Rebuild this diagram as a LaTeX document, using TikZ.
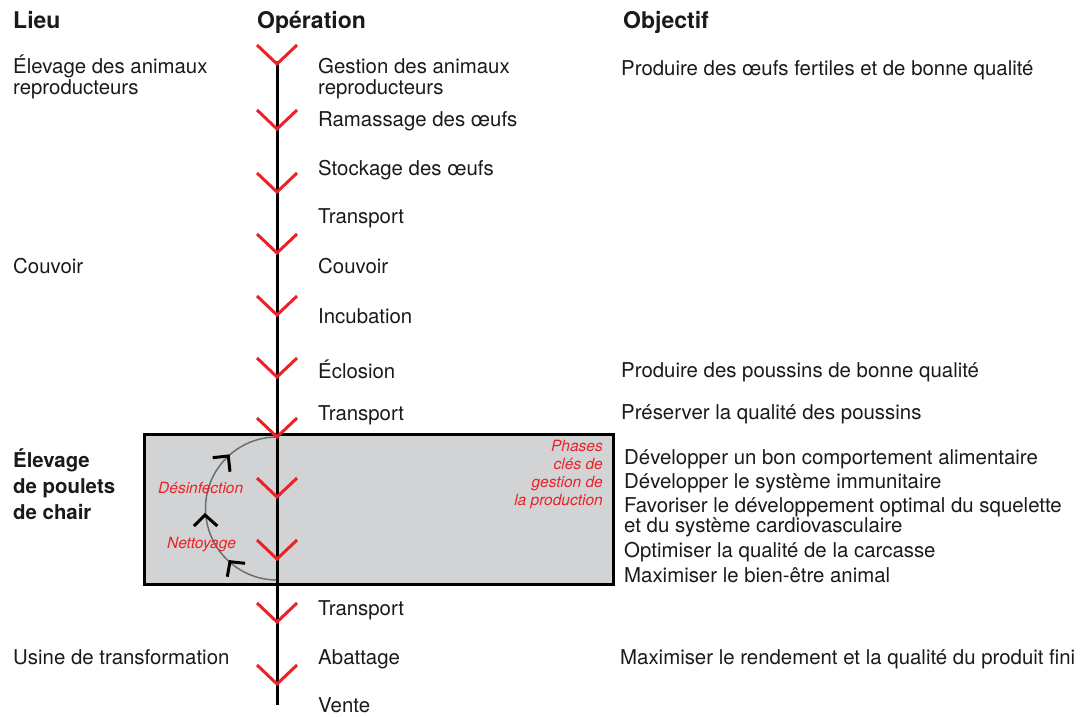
\documentclass[tikz,border=0pt]{standalone}
\usepackage{fontspec}
\setmainfont{TeX Gyre Heros}
\definecolor{chev}{HTML}{EC2228}
\definecolor{boxgray}{HTML}{D1D3D4}
\definecolor{arcgray}{HTML}{6D6E70}
\definecolor{ink}{HTML}{1A1A1A}
\begin{document}
\begin{tikzpicture}[x=1pt,y=-1pt,
  txt/.style={anchor=base west, inner sep=0pt, font=\fontsize{20.4}{24}\selectfont, text=ink},
  head/.style={anchor=base west, inner sep=0pt, font=\fontsize{23}{27}\selectfont\bfseries, text=ink},
  lieub/.style={txt, font=\fontsize{20.4}{24}\selectfont\bfseries},
  redlab/.style={inner sep=0pt, font=\fontsize{15.5}{18}\selectfont\itshape, text=chev},
  chevron/.style={draw=chev, line width=3pt, line join=miter},
  spine/.style={line width=3pt, draw=black},
  phasebox/.style={draw=black, line width=3pt, fill=boxgray},
  cyclearc/.style={draw=arcgray, line width=1.5pt},
  cycarrow/.style={draw=black, line width=3pt, line join=miter},
]
\useasboundingbox (0,0) rectangle (1082,717);

% box of key phases
\draw[phasebox] (144,434) rectangle (613,584);

% cycle arc
\coordinate (cyctop) at (277,437);
\coordinate (cycbot) at (277,580);
\draw[cyclearc] (cyctop) arc[start angle=270, end angle=90, radius=71.5];

% spine
\coordinate (top) at (277,61);
\coordinate (bot) at (277,705);
\draw[spine] (top) -- (bot);

% red chevrons
\foreach \v in {64,129,192,253,315,377,437,497,559,622,684}
  \draw[chevron] (257,\v-19) -- (277,\v) -- (297,\v-19);

% arrows along the cycle
\draw[cycarrow] (227.3,576.7) -- (230,561.7) -- (245,563.3);
\draw[cycarrow] (194,526) -- (205,515) -- (217.3,526);
\draw[cycarrow] (212.7,457.7) -- (228.3,456) -- (230,471.7);

% headers
\node[head] (hlieu) at (13,29) {Lieu};
\node[head] (hop) at (257,29) {Opération};
\node[head] (hobj) at (623,29) {Objectif};

% Lieu column
\node[txt] (l1a) at (13,74) {Élevage des animaux};
\node[txt] (l1b) at (13,94.5) {reproducteurs};
\node[txt] (l2) at (13,273) {Couvoir};
\node[lieub] (l3a) at (13,467) {Élevage};
\node[lieub] (l3b) at (13,493) {de poulets};
\node[lieub] (l3c) at (13,519) {de chair};
\node[txt] (l4) at (13,664) {Usine de transformation};

% Operation column
\node[txt] (o1a) at (318,74) {Gestion des animaux};
\node[txt] (o1b) at (318,94.5) {reproducteurs};
\node[txt] (o2) at (318,126) {Ramassage des œufs};
\node[txt] (o3) at (318,175) {Stockage des œufs};
\node[txt] (o4) at (318,223) {Transport};
\node[txt] (o5) at (318,273) {Couvoir};
\node[txt] (o6) at (318,323) {Incubation};
\node[txt] (o7) at (318,378) {Éclosion};
\node[txt] (o8) at (318,420) {Transport};
\node[txt] (o9) at (318,615) {Transport};
\node[txt] (o10) at (318,664) {Abattage};
\node[txt] (o11) at (318,712) {Vente};

% Objectif column
\node[txt] (b1) at (621,75) {Produire des œufs fertiles et de bonne qualité};
\node[txt] (b2) at (621,377) {Produire des poussins de bonne qualité};
\node[txt] (b3) at (621,419) {Préserver la qualité des poussins};
\node[txt] (b4) at (624,464) {Développer un bon comportement alimentaire};
\node[txt] (b5) at (624,488) {Développer le système immunitaire};
\node[txt] (b6a) at (624,512) {Favoriser le développement optimal du squelette};
\node[txt] (b6b) at (624,532) {et du système cardiovasculaire};
\node[txt] (b7) at (624,557) {Optimiser la qualité de la carcasse};
\node[txt] (b8) at (624,582) {Maximiser le bien-être animal};
\node[txt] (b9) at (620,664) {Maximiser le rendement et la qualité du produit fini};

% red labels
\node[redlab, anchor=base east] (p1) at (603,451) {Phases};
\node[redlab, anchor=base east] (p2) at (603,469) {clés de};
\node[redlab, anchor=base east] (p3) at (603,487) {gestion de};
\node[redlab, anchor=base east] (p4) at (603,505) {la production};
\node[redlab, anchor=base west] (des) at (158,493) {Désinfection};
\node[redlab, anchor=base west] (net) at (167,548) {Nettoyage};
\end{tikzpicture}
\end{document}
